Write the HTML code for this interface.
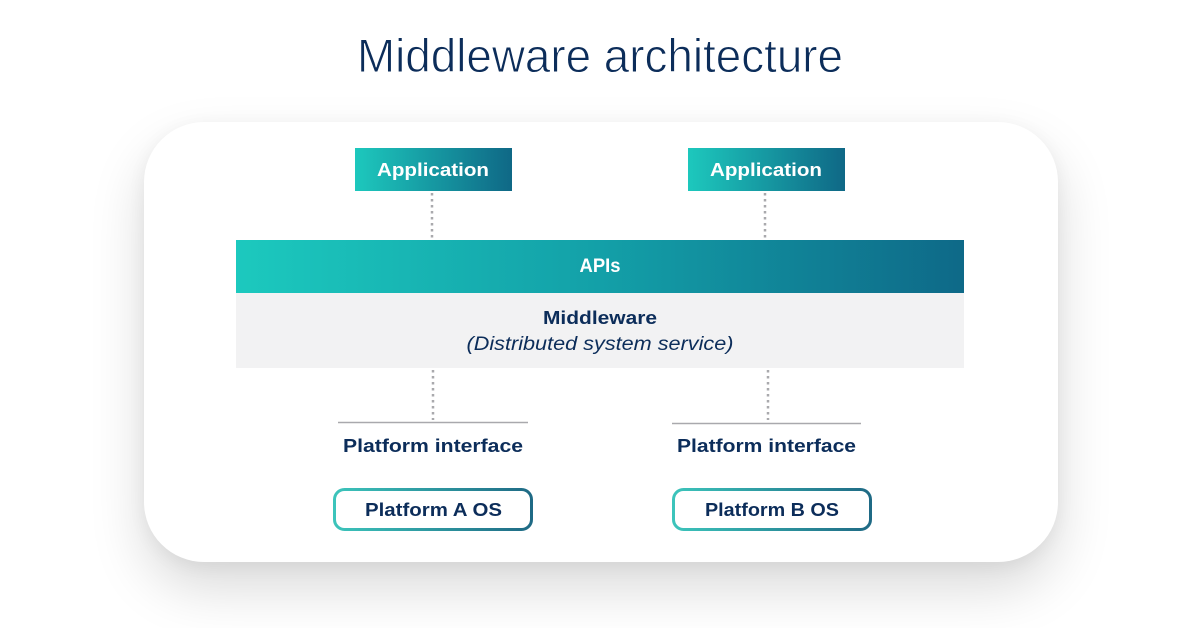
<!DOCTYPE html>
<html>
<head>
<meta charset="utf-8">
<style>
  html,body{margin:0;padding:0;background:#ffffff;}
  body{width:1200px;height:628px;position:relative;overflow:hidden;font-family:"Liberation Sans",sans-serif;}
  .card{position:absolute;left:144px;top:122px;width:914px;height:440px;background:#fff;border-radius:60px;
        box-shadow:0 26px 55px rgba(0,0,0,0.15), 0 4px 18px rgba(0,0,0,0.05);}
  svg{position:absolute;left:0;top:0;}
</style>
</head>
<body>
<div class="card"></div>
<svg width="1200" height="628" viewBox="0 0 1200 628" xmlns="http://www.w3.org/2000/svg">
  <defs>
    <linearGradient id="g1" x1="0" y1="0" x2="1" y2="0">
      <stop offset="0" stop-color="#1dc8bd"/>
      <stop offset="1" stop-color="#0f6886"/>
    </linearGradient>
    <linearGradient id="g2" x1="0" y1="0" x2="1" y2="0">
      <stop offset="0" stop-color="#1cc9be"/>
      <stop offset="0.5" stop-color="#13a0a8"/>
      <stop offset="1" stop-color="#0e6988"/>
    </linearGradient>
    <linearGradient id="g3" x1="0" y1="0" x2="1" y2="0">
      <stop offset="0" stop-color="#3cc4bb"/>
      <stop offset="1" stop-color="#1f6a85"/>
    </linearGradient>
  </defs>

  <!-- Title -->
  <text x="600" y="72" text-anchor="middle" font-family="Liberation Sans, sans-serif" font-size="47" fill="#0c2d5a" stroke="#ffffff" stroke-width="0.9" textLength="486" lengthAdjust="spacingAndGlyphs">Middleware architecture</text>

  <!-- Application boxes -->
  <rect x="355" y="148" width="157" height="43" fill="url(#g1)"/>
  <text x="433" y="176" text-anchor="middle" font-family="Liberation Sans, sans-serif" font-weight="bold" font-size="18" fill="#ffffff" textLength="112" lengthAdjust="spacingAndGlyphs">Application</text>
  <rect x="688" y="148" width="157" height="43" fill="url(#g1)"/>
  <text x="766" y="176" text-anchor="middle" font-family="Liberation Sans, sans-serif" font-weight="bold" font-size="18" fill="#ffffff" textLength="112" lengthAdjust="spacingAndGlyphs">Application</text>

  <!-- upper dotted connectors -->
  <line x1="432" y1="193" x2="432" y2="238" stroke="#a9a9ad" stroke-width="2.5" stroke-dasharray="2.5 3.5"/>
  <line x1="765" y1="193" x2="765" y2="238" stroke="#a9a9ad" stroke-width="2.5" stroke-dasharray="2.5 3.5"/>

  <!-- APIs bar -->
  <rect x="236" y="240" width="728" height="53" fill="url(#g2)"/>
  <text x="600" y="272" text-anchor="middle" font-family="Liberation Sans, sans-serif" font-weight="bold" font-size="19" fill="#ffffff" textLength="41" lengthAdjust="spacingAndGlyphs">APIs</text>

  <!-- Middleware -->
  <rect x="236" y="293" width="728" height="75" fill="#f2f2f3"/>
  <text x="600" y="324" text-anchor="middle" font-family="Liberation Sans, sans-serif" font-weight="bold" font-size="18" fill="#0c2d5a" textLength="114" lengthAdjust="spacingAndGlyphs">Middleware</text>
  <text x="600" y="350" text-anchor="middle" font-family="Liberation Sans, sans-serif" font-style="italic" font-size="19" fill="#0c2d5a" textLength="267" lengthAdjust="spacingAndGlyphs">(Distributed system service)</text>

  <!-- lower dotted connectors -->
  <line x1="433" y1="370" x2="433" y2="420" stroke="#a9a9ad" stroke-width="2.5" stroke-dasharray="2.5 3.5"/>
  <line x1="768" y1="370" x2="768" y2="420" stroke="#a9a9ad" stroke-width="2.5" stroke-dasharray="2.5 3.5"/>

  <!-- platform interface lines -->
  <line x1="338" y1="422.5" x2="528" y2="422.5" stroke="#a9a9ad" stroke-width="1.6"/>
  <line x1="672" y1="423.5" x2="861" y2="423.5" stroke="#a9a9ad" stroke-width="1.6"/>

  <text x="433" y="452" text-anchor="middle" font-family="Liberation Sans, sans-serif" font-weight="bold" font-size="18" fill="#0c2d5a" textLength="180" lengthAdjust="spacingAndGlyphs">Platform interface</text>
  <text x="766.5" y="452" text-anchor="middle" font-family="Liberation Sans, sans-serif" font-weight="bold" font-size="18" fill="#0c2d5a" textLength="179" lengthAdjust="spacingAndGlyphs">Platform interface</text>

  <!-- Platform OS boxes -->
  <rect x="334.5" y="489.5" width="197" height="40" rx="10" ry="10" fill="#ffffff" stroke="url(#g3)" stroke-width="3"/>
  <text x="433.5" y="516" text-anchor="middle" font-family="Liberation Sans, sans-serif" font-weight="bold" font-size="18" fill="#0c2d5a" textLength="137" lengthAdjust="spacingAndGlyphs">Platform A OS</text>
  <rect x="673.5" y="489.5" width="197" height="40" rx="10" ry="10" fill="#ffffff" stroke="url(#g3)" stroke-width="3"/>
  <text x="772" y="516" text-anchor="middle" font-family="Liberation Sans, sans-serif" font-weight="bold" font-size="18" fill="#0c2d5a" textLength="134" lengthAdjust="spacingAndGlyphs">Platform B OS</text>
</svg>
</body>
</html>
